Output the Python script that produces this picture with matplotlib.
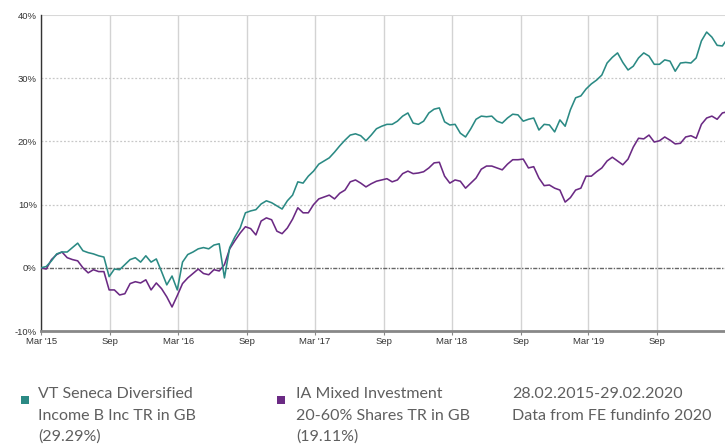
import matplotlib
matplotlib.use("Agg")
import matplotlib.pyplot as plt
import matplotlib.dates as mdates
from matplotlib.patches import Rectangle
from matplotlib.ticker import FixedLocator, FuncFormatter
import pandas as pd

# ---- data (cumulative total return, %) sampled every 14 days from 28.02.2015 ----
start_date = "2015-02-28"
end_date = "2020-02-29"

fund_values = [
    0.0, 0.2, 1.1, 2.2, 2.5, 2.5, 3.2, 3.9, 2.7, 2.4,
    2.2, 1.9, 1.7, -1.4, -0.2, -0.3, 0.5, 1.3, 1.6, 0.9,
    1.9, 0.9, 1.4, -0.6, -2.7, -1.3, -3.5, 0.9, 2.1, 2.5,
    3.0, 3.2, 3.0, 3.6, 3.8, -1.6, 3.2, 4.9, 6.3, 8.7,
    9.0, 9.2, 10.1, 10.6, 10.3, 9.8, 9.3, 10.6, 11.5, 13.6,
    13.4, 14.5, 15.3, 16.4, 16.9, 17.4, 18.3, 19.3, 20.2, 21.0,
    21.2, 20.9, 20.1, 21.0, 22.0, 22.4, 22.7, 22.7, 23.2, 24.0,
    24.5, 22.9, 22.7, 23.2, 24.5, 25.1, 25.3, 23.1, 22.6, 22.7,
    21.3, 20.7, 22.0, 23.5, 24.0, 23.9, 24.0, 23.2, 22.9, 23.7,
    24.3, 24.2, 23.2, 23.5, 23.7, 21.8, 22.7, 22.6, 21.5, 23.4,
    22.4, 25.0, 26.9, 27.2, 28.3, 29.1, 29.7, 30.5, 32.4, 33.3,
    34.0, 32.5, 31.3, 31.9, 33.2, 34.0, 33.5, 32.2, 32.2, 32.9,
    32.7, 31.1, 32.4, 32.5, 32.4, 33.2, 35.9, 37.3, 36.5, 35.2,
    35.1, 35.7,
]

sector_values = [
    0.0, -0.2, 1.3, 2.1, 2.5, 1.6, 1.3, 1.1, 0.0, -0.8,
    -0.3, -0.6, -0.6, -3.5, -3.5, -4.3, -4.1, -2.5, -2.2, -2.4,
    -1.9, -3.5, -2.4, -3.3, -4.6, -6.2, -4.4, -2.5, -1.6, -0.9,
    -0.2, -0.9, -1.1, -0.3, -0.5, 0.5, 3.0, 4.3, 5.5, 6.5,
    6.2, 5.2, 7.4, 7.9, 7.6, 5.8, 5.4, 6.3, 7.7, 9.5,
    8.7, 8.7, 10.0, 10.9, 11.2, 11.5, 10.9, 11.8, 12.3, 13.6,
    13.9, 13.4, 12.8, 13.3, 13.7, 13.9, 14.1, 13.6, 13.9, 14.9,
    15.3, 14.9, 15.0, 15.2, 15.8, 16.6, 16.7, 14.5, 13.4, 13.9,
    13.7, 12.6, 13.4, 14.2, 15.6, 16.1, 16.1, 15.8, 15.5, 16.4,
    17.1, 17.1, 17.2, 15.8, 16.0, 14.2, 13.0, 13.1, 12.6, 12.3,
    10.4, 11.1, 12.3, 12.6, 14.5, 14.5, 15.2, 15.8, 16.9, 17.5,
    16.9, 16.3, 17.2, 19.1, 20.5, 20.4, 21.0, 19.9, 20.1, 20.7,
    20.2, 19.6, 19.7, 20.7, 20.9, 20.5, 22.7, 23.7, 24.0, 23.5,
    24.5, 24.6,
]

series_names = [
    ["VT Seneca Diversified", "Income B Inc TR in GB", "(29.29%)"],
    ["IA Mixed Investment", "20-60% Shares TR in GB", "(19.11%)"],
]
info_lines = ["28.02.2015-29.02.2020", "Data from FE fundinfo 2020"]

y_ticks = [-10, 0, 10, 20, 30, 40]
x_tick_dates = ["2015-03-01", "2015-09-01", "2016-03-01", "2016-09-01",
                "2017-03-01", "2017-09-01", "2018-03-01", "2018-09-01",
                "2019-03-01", "2019-09-01"]
x_tick_labels = ["Mar '15", "Sep", "Mar '16", "Sep", "Mar '17", "Sep",
                 "Mar '18", "Sep", "Mar '19", "Sep"]

fund_color = "#2b8a84"
sector_color = "#6b2a84"

# ---- dates ----
n_regular = len(fund_values) - 1
dates = list(pd.date_range(start_date, periods=n_regular, freq="14D")) + [pd.Timestamp(end_date)]

W, H = 725, 444
fig = plt.figure(figsize=(W / 100, H / 100), dpi=100)
fig.patch.set_facecolor("white")

ax = fig.add_axes([41 / W, 1 - 331 / H, (725 - 41) / W, (331 - 15) / H])

ax.plot(dates, fund_values, color=fund_color, lw=1.15, zorder=4, solid_joinstyle="round")
ax.plot(dates, sector_values, color=sector_color, lw=1.15, zorder=3, solid_joinstyle="round")

ax.set_ylim(-10, 40)
ax.set_xlim(pd.Timestamp(start_date), pd.Timestamp(end_date))

ax.yaxis.set_major_locator(FixedLocator(y_ticks))
ax.yaxis.set_major_formatter(FuncFormatter(lambda v, p: f"{int(v)}%"))
ax.xaxis.set_major_locator(FixedLocator([mdates.date2num(pd.Timestamp(d)) for d in x_tick_dates]))
ax.set_xticklabels(x_tick_labels)

for lab in ax.get_xticklabels() + ax.get_yticklabels():
    lab.set_fontfamily(["Liberation Sans", "DejaVu Sans"])
    lab.set_fontsize(6.8)
    lab.set_color("#333333")

ax.tick_params(axis="y", length=0, pad=3)
ax.tick_params(axis="x", length=3, width=0.8, color="#888888", pad=1)

# vertical grid
for d in x_tick_dates:
    ax.axvline(pd.Timestamp(d), color="#d3d3d3", lw=1.0, zorder=1)
# horizontal grid (dotted)
for v in y_ticks:
    if v in (-10, 0, 40):
        continue
    ax.axhline(v, color="#c8c8c8", lw=0.9, ls=(0, (1.5, 1.5)), zorder=1)
ax.axhline(40, color="#d8d8d8", lw=1.5, zorder=1)
ax.axhline(0, color="#666666", lw=1.0, ls=(0, (3, 1, 1, 1)), zorder=2)

for s in ["top", "right"]:
    ax.spines[s].set_visible(False)
ax.spines["left"].set_color("#333333")
ax.spines["left"].set_linewidth(1.0)
ax.spines["bottom"].set_color("#888888")
ax.spines["bottom"].set_linewidth(2.0)

# ---- legend / info texts ----
leg_font = dict(family=["Lato", "DejaVu Sans"], fontsize=11.5, color="#5f5f5f", weight="normal")
baselines = [398, 420, 441]
sq_x = [21, 277]
txt_x = [38, 296]
colors = [fund_color, sector_color]
for i in range(2):
    fig.patches.append(Rectangle((sq_x[i] / W, 1 - 404 / H), 8 / W, 8 / H,
                                 transform=fig.transFigure, facecolor=colors[i],
                                 edgecolor="none"))
    for j, line in enumerate(series_names[i]):
        fig.text(txt_x[i] / W, 1 - baselines[j] / H, line, va="baseline", ha="left", **leg_font)
for j, line in enumerate(info_lines):
    fig.text(512 / W, 1 - baselines[j] / H, line, va="baseline", ha="left", **leg_font)

fig.savefig("out.png", dpi=100, facecolor="white")
